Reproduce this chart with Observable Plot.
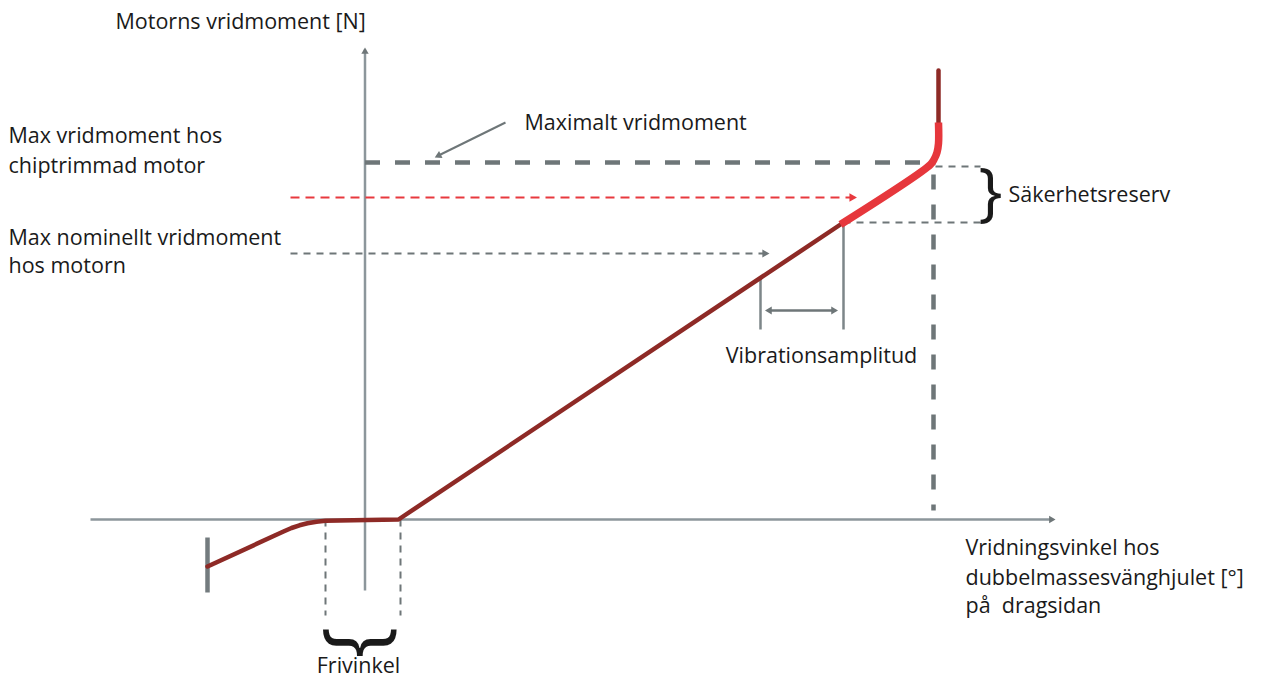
<!DOCTYPE html>
<html>
<head>
<meta charset="utf-8">
<script src="https://cdn.jsdelivr.net/npm/d3@7"></script>
<script src="https://cdn.jsdelivr.net/npm/@observablehq/plot@0.6"></script>
<style>
  html, body { margin: 0; padding: 0; background: #fff; }
  #chart svg { display: block; }
</style>
</head>
<body>
<div id="chart"></div>
<script>
// Schematic units: x = twist angle, y = torque (origin at the axis crossing)

// Main torque curve, three segments
const normalAngle   = [-160, -84, -76, -68, -60, -51, -42, 0, 31, 473];
const normalTorque  = [-47, -12, -8.5, -5.8, -3.8, -2.2, -1.2, -0.6, 0, 295];
const reserveAngle  = [473, 563, 566.5, 569.5, 571, 571];
const reserveTorque = [295, 355, 360, 367, 376, 397];
const endAngle      = [571, 571];
const endTorque     = [397, 449];

// Axis extents
const torqueAxisAngle = -2.5;
const axisAngleRange  = [-277, 683];
const axisTorqueRange = [-71, 470];
const axisTips = { angle: 690, torque: 474 };

// Levels
const maxTorque      = 357;   // max torque, chiptuned engine
const maxAngle       = 566;   // angle at max torque
const reserveLevels  = [353, 297];
const reserveStart   = [568, 476];
const reserveEnd     = 613;
const tunedLevel     = 322;   // red dashed arrow
const nominalLevel   = 266;   // grey dashed arrow
const arrowStart     = -77;
const tunedTip       = 493;
const nominalTip     = 405;

// Stop at the left end of the curve
const stopAngle  = -160;
const stopTorque = [-18, -73];

// Free angle (Frivinkel)
const freeAngles = [-42, 33];
const freeBottom = -96;

// Vibration amplitude
const vibAngles   = [393, 476];
const vibTops     = [241, 295];
const vibBottom   = 190;
const vibArrowY   = 209;
const vibArrowEnds = [395, 473];

// Pointer to the max-torque line
const pointerFrom = [138, 397];
const pointerTo   = [65, 361];

// Labels
const labels = [
  {x: -252, y: 497, text: "Motorns vridmoment [N]", anchor: "start"},
  {x: 157,  y: 396, text: "Maximalt vridmoment", anchor: "start"},
  {x: -359, y: 383, text: "Max vridmoment hos", anchor: "start"},
  {x: -359, y: 353, text: "chiptrimmad motor", anchor: "start"},
  {x: 641,  y: 324, text: "Säkerhetsreserv", anchor: "start"},
  {x: -359, y: 281, text: "Max nominellt vridmoment", anchor: "start"},
  {x: -359, y: 253, text: "hos motorn", anchor: "start"},
  {x: 454,  y: 163, text: "Vibrationsamplitud", anchor: "middle"},
  {x: 598,  y: -29, text: "Vridningsvinkel hos", anchor: "start"},
  {x: 598,  y: -59, text: "dubbelmassesvänghjulet [°]", anchor: "start"},
  {x: 598,  y: -87, text: "på  dragsidan", anchor: "start"},
  {x: -9,   y: -147, text: "Frivinkel", anchor: "middle"}
];

// Braces
const braces = [
  {x: 623, y: 326, rotate: 0, size: 64},
  {x: -5,  y: -123, rotate: 90, size: 84}
];

// ---------- build tables ----------
const zip = (xs, ys) => xs.map((x, i) => ({x, y: ys[i]}));
const normal  = zip(normalAngle, normalTorque);
const reserve = zip(reserveAngle, reserveTorque);
const endSeg  = zip(endAngle, endTorque);

const axisLinks = [
  {x1: axisAngleRange[0], y1: 0, x2: axisAngleRange[1], y2: 0},
  {x1: torqueAxisAngle, y1: axisTorqueRange[0], x2: torqueAxisAngle, y2: axisTorqueRange[1]}
];

// arrowhead helper: triangle centroid placed behind the tip along direction
function head(tipX, tipY, dirX, dirY, r) {
  const len = Math.hypot(dirX, dirY);
  const ux = dirX / len, uy = dirY / len;
  const s = Math.sqrt(Math.PI * r * r * 4 / Math.sqrt(3));
  const back = s * Math.sqrt(3) / 2 * 2 / 3;
  const ang = Math.atan2(-uy, ux) * 180 / Math.PI; // screen angle
  return {x: tipX - ux * back, y: tipY - uy * back, rotate: ang + 90, r};
}
const greyHeads = [
  head(torqueAxisAngle, axisTips.torque, 0, 1, 4),
  head(axisTips.angle, 0, 1, 0, 4),
  head(nominalTip, nominalLevel, 1, 0, 5),
  head(pointerTo[0], pointerTo[1], pointerTo[0] - pointerFrom[0], pointerTo[1] - pointerFrom[1], 4.5),
  head(vibArrowEnds[0], vibArrowY, -1, 0, 4.5),
  head(vibArrowEnds[1], vibArrowY, 1, 0, 4.5)
];
const redHeads = [head(tunedTip, tunedLevel, 1, 0, 5.5)];

const axisGrey = "#8c969b";
const dashGrey = "#6e7678";
const darkRed = "#8e2a26";
const brightRed = "#e6373c";
const font = "Open Sans, sans-serif";

const chart = Plot.plot({
  width: 1263,
  height: 679,
  margin: 0,
  style: {background: "#fff", fontFamily: font},
  x: {domain: [-367, 896], range: [0, 1263], axis: null},
  y: {domain: [-160, 519], range: [679, 0], axis: null},
  marks: [
    // axes
    Plot.link(axisLinks, {x1: "x1", y1: "y1", x2: "x2", y2: "y2", stroke: axisGrey, strokeWidth: 2.5}),
    // stop bar
    Plot.link([{a: stopAngle, t1: stopTorque[0], t2: stopTorque[1]}], {x1: "a", x2: "a", y1: "t1", y2: "t2", stroke: "#737b7e", strokeWidth: 4.5}),
    // free angle dashed verticals
    Plot.link(freeAngles.map(a => ({a})), {x1: "a", x2: "a", y1: 0, y2: freeBottom, stroke: dashGrey, strokeWidth: 2, strokeDasharray: "7,6"}),
    // max torque thick dashed lines
    Plot.link([{x1: torqueAxisAngle, y1: maxTorque, x2: maxAngle + 2, y2: maxTorque}], {x1: "x1", y1: "y1", x2: "x2", y2: "y2", stroke: dashGrey, strokeWidth: 4.5, strokeDasharray: "15,15"}),
    Plot.link([{x1: maxAngle, y1: maxTorque - 12, x2: maxAngle, y2: 9}], {x1: "x1", y1: "y1", x2: "x2", y2: "y2", stroke: dashGrey, strokeWidth: 4.5, strokeDasharray: "15,15"}),
    // safety reserve thin dashed
    Plot.link(reserveLevels.map((l, i) => ({l, s: reserveStart[i]})), {x1: "s", x2: reserveEnd, y1: "l", y2: "l", stroke: dashGrey, strokeWidth: 2, strokeDasharray: "7,6"}),
    // nominal & tuned arrows
    Plot.link([{l: nominalLevel, e: nominalTip - 8}], {x1: arrowStart, x2: "e", y1: "l", y2: "l", stroke: dashGrey, strokeWidth: 2, strokeDasharray: "7,6"}),
    Plot.link([{l: tunedLevel, e: tunedTip - 8}], {x1: arrowStart, x2: "e", y1: "l", y2: "l", stroke: "#e8393e", strokeWidth: 2, strokeDasharray: "9,6"}),
    // pointer
    Plot.link([{x1: pointerFrom[0], y1: pointerFrom[1], x2: pointerTo[0] + 5, y2: pointerTo[1] + 2.5}], {x1: "x1", y1: "y1", x2: "x2", y2: "y2", stroke: dashGrey, strokeWidth: 2}),
    // vibration amplitude
    Plot.link(vibAngles.map((a, i) => ({a, t: vibTops[i]})), {x1: "a", x2: "a", y1: "t", y2: vibBottom, stroke: "#7d8689", strokeWidth: 2.5}),
    Plot.link([{a: vibArrowEnds[0] + 6, b: vibArrowEnds[1] - 6}], {x1: "a", x2: "b", y1: vibArrowY, y2: vibArrowY, stroke: dashGrey, strokeWidth: 2.5}),
    // arrowheads
    Plot.dot(greyHeads, {x: "x", y: "y", r: "r", rotate: "rotate", symbol: "triangle", fill: dashGrey, stroke: "none"}),
    Plot.dot(redHeads, {x: "x", y: "y", r: "r", rotate: "rotate", symbol: "triangle", fill: "#e8393e", stroke: "none"}),
    // curve
    Plot.line(normal, {x: "x", y: "y", stroke: darkRed, strokeWidth: 4.5, curve: "linear", strokeLinejoin: "round"}),
    Plot.line(endSeg, {x: "x", y: "y", stroke: darkRed, strokeWidth: 4.5}),
    Plot.line(reserve, {x: "x", y: "y", stroke: brightRed, strokeWidth: 7.5, curve: "catmull-rom", strokeLinecap: "butt"}),
    // braces
    Plot.text(braces, {x: "x", y: "y", text: () => "}", rotate: "rotate", fontSize: "size", fontWeight: 400, fill: "#1a1a1a", lineAnchor: "middle", fontFamily: font}),
    // labels
    Plot.text(labels.filter(d => d.anchor === "start"), {x: "x", y: "y", text: "text", textAnchor: "start", lineAnchor: "middle", fontSize: 21.5, fill: "#1a1a1a", fontFamily: font}),
    Plot.text(labels.filter(d => d.anchor === "middle"), {x: "x", y: "y", text: "text", textAnchor: "middle", lineAnchor: "middle", fontSize: 21.5, fill: "#1a1a1a", fontFamily: font})
  ]
});
document.getElementById("chart").appendChild(chart);
</script>
</body>
</html>
